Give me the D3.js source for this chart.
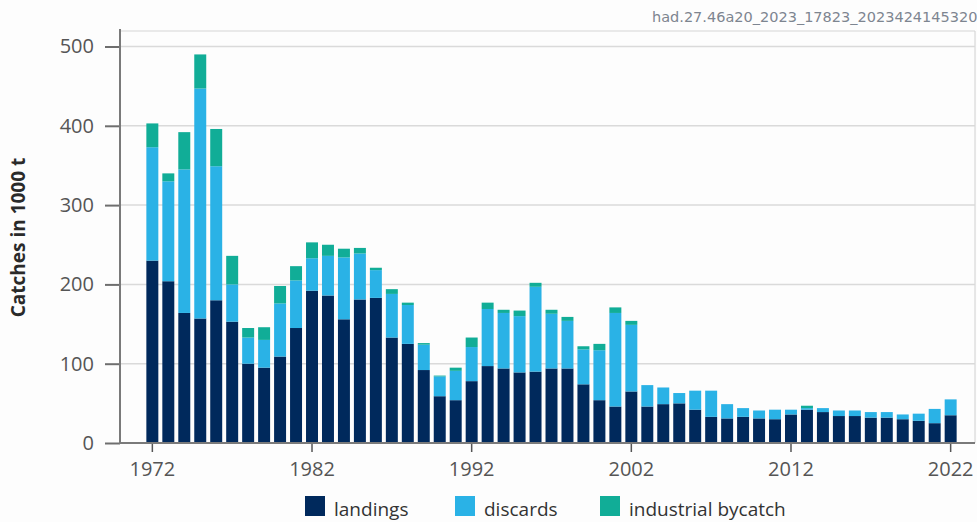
<!DOCTYPE html>
<html>
<head>
<meta charset="utf-8">
<script src="https://cdn.jsdelivr.net/npm/d3@7"></script>
<style>
  html, body { margin: 0; padding: 0; background: #fdfdfd; }
  #mainDiv { width: 977px; height: 522px; overflow: hidden; }
  text { font-family: "Open Sans", "DejaVu Sans", sans-serif; }
</style>
</head>
<body>
<div id="mainDiv"></div>
<script>
'use strict';

var years = [];
for (var yr = 1972; yr <= 2022; yr++) { years.push(yr); }

var landings = [230, 204, 164, 157, 180, 153, 100, 95, 109, 145,
                192, 186, 156, 181, 183, 133, 125, 92, 59, 54,
                78, 97, 94, 89, 90, 94, 94, 74, 54, 46,
                65, 46, 49, 50, 42, 33, 31, 33, 31, 30,
                36, 42, 39, 34, 34, 32, 32, 30, 28, 25,
                35];

var discards = [143, 126, 181, 290, 169, 47, 33, 35, 67, 60,
                41, 50, 78, 58, 35, 55, 49, 32, 25, 37,
                43, 72, 70, 71, 107, 69, 60, 44, 63, 118,
                84, 27, 21, 13, 24, 33, 18, 11, 10, 12,
                6, 2, 5, 7, 7, 7, 7, 6, 9, 18,
                20];

var bycatch = [30, 10, 47, 43, 47, 36, 12, 16, 22, 18,
               20, 14, 11, 7, 3, 6, 3, 2, 1, 4,
               12, 8, 4, 7, 5, 5, 5, 4, 8, 7,
               5, 0, 0, 0, 0, 0, 0, 0, 0, 0,
               0, 3, 0, 0, 0, 0, 0, 0, 0, 0,
               0];

var seriesNames = ['landings', 'discards', 'industrial bycatch'];
var seriesColors = ['#00295c', '#2ab2e6', '#11ad97'];
var yTicks = [0, 100, 200, 300, 400, 500];
var xTickYears = [1972, 1982, 1992, 2002, 2012, 2022];
var stampText = 'had.27.46a20_2023_17823_2023424145320';

var myApp = {};

myApp.buildRows = function()
{
    var rows = [];
    for (var i = 0; i < years.length; i++)
    {
        rows.push({'year': years[i], 'landings': landings[i], 'discards': discards[i], 'industrial bycatch': bycatch[i]});
    }
    return rows;
}

myApp.run = function()
{
    var W = 977, H = 522;
    var left = 120, right = 975, top = 31, bottom = 443;

    var svg = d3.select('#mainDiv').append('svg')
        .attr('width', W)
        .attr('height', H);

    var x = d3.scaleBand()
        .domain(years)
        .range([128, right])
        .paddingInner(0.25)
        .paddingOuter(1.15);

    var y = d3.scaleLinear()
        .domain([0, 500])
        .range([bottom, 46.5]);

    // frame top / right
    svg.append('line')
        .attr('x1', left).attr('x2', right)
        .attr('y1', top).attr('y2', top)
        .style('stroke', '#e2e2e2').style('stroke-width', 1.5);
    svg.append('line')
        .attr('x1', right).attr('x2', right)
        .attr('y1', top).attr('y2', bottom)
        .style('stroke', '#d0d0d0').style('stroke-width', 1);

    // grid
    svg.append('g').selectAll('line')
        .data(yTicks.slice(1))
        .enter().append('line')
        .attr('x1', left).attr('x2', right)
        .attr('y1', function(d){ return y(d); })
        .attr('y2', function(d){ return y(d); })
        .style('stroke', '#dadada').style('stroke-width', 1.5);

    // bars
    var stack = d3.stack().keys(seriesNames);
    var layers = stack(myApp.buildRows());

    svg.append('g').selectAll('g')
        .data(layers)
        .enter().append('g')
        .style('fill', function(d, i){ return seriesColors[i]; })
        .selectAll('rect')
        .data(function(d){ return d; })
        .enter().append('rect')
        .attr('x', function(d){ return x(d.data.year); })
        .attr('width', x.bandwidth())
        .attr('y', function(d){ return y(d[1]); })
        .attr('height', function(d){ return y(d[0]) - y(d[1]); });

    // y axis
    var yAxis = d3.axisLeft(y).tickValues(yTicks).tickSize(15).tickPadding(11);
    var gy = svg.append('g')
        .attr('transform', 'translate(' + left + ',0)')
        .call(yAxis);
    gy.select('.domain').remove();
    gy.selectAll('.tick line').style('stroke', '#6e6e6e').style('stroke-width', 2);
    gy.selectAll('.tick text')
        .style('font-size', '20px')
        .style('fill', '#555');
    svg.append('line')
        .attr('x1', left).attr('x2', left)
        .attr('y1', top - 2).attr('y2', bottom + 1)
        .style('stroke', '#7a7a7a').style('stroke-width', 2);

    // x axis
    var xAxis = d3.axisBottom(x).tickValues(xTickYears).tickSize(9).tickPadding(10);
    var gx = svg.append('g')
        .attr('transform', 'translate(0,' + bottom + ')')
        .call(xAxis);
    gx.select('.domain').remove();
    gx.selectAll('.tick line').style('stroke', '#555').style('stroke-width', 1.5);
    gx.selectAll('.tick text')
        .style('font-size', '20px')
        .style('fill', '#555');
    svg.append('line')
        .attr('x1', left).attr('x2', right)
        .attr('y1', bottom).attr('y2', bottom)
        .style('stroke', '#7a7a7a').style('stroke-width', 2);

    // y title
    svg.append('text')
        .attr('transform', 'translate(25,' + 237.5 + ') rotate(-90)')
        .attr('text-anchor', 'middle')
        .style('font-size', '19px')
        .style('font-weight', 'bold')
        .style('fill', '#2a2a2a')
        .text('Catches in 1000 t');

    // stamp
    svg.append('text')
        .attr('x', 652).attr('y', 22)
        .style('font-family', '"DejaVu Sans", sans-serif')
        .style('font-size', '14.5px')
        .style('fill', '#7d8590')
        .text(stampText);

    // legend
    var legX = [305, 455, 600];
    var leg = svg.append('g').selectAll('g')
        .data(seriesNames)
        .enter().append('g')
        .attr('transform', function(d, i){ return 'translate(' + legX[i] + ',496)'; });
    leg.append('rect')
        .attr('width', 20).attr('height', 20)
        .style('fill', function(d, i){ return seriesColors[i]; });
    leg.append('text')
        .attr('x', 29).attr('y', 20)
        .style('font-size', '19px')
        .style('fill', '#333')
        .text(function(d){ return d; });
}

window.myApp = myApp;
myApp.run();
</script>
</body>
</html>
